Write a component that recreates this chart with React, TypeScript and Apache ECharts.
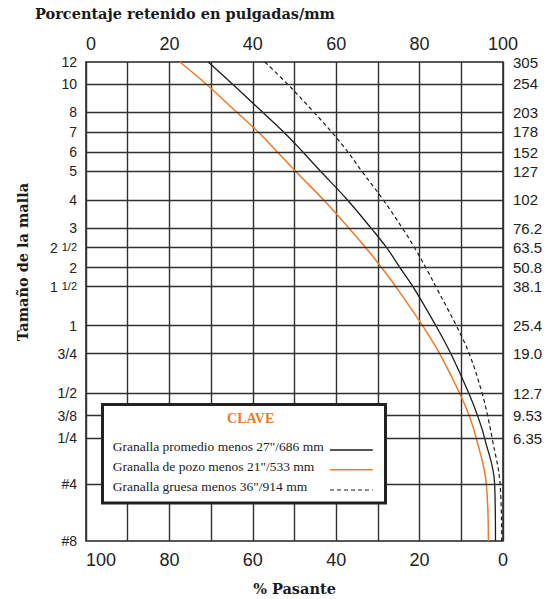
import { useEffect, useRef } from 'react';
import * as echarts from 'echarts';

// Sieve (mesh) sizes, top to bottom, as printed on the left axis
const meshLabels = ['12', '10', '8', '7', '6', '5', '4', '3', '2 {s|1/2}', '2', '1 {s|1/2}', '1', '3/4', '1/2', '3/8', '1/4', '#4', '#8'];
// Position of each sieve line along the (hand-drawn, irregular) vertical axis, 0 = top, 100 = bottom
const meshAxisPos = [0, 4.59, 10.44, 14.61, 18.79, 22.76, 28.81, 34.72, 38.77, 42.94, 46.91, 55.05, 60.9, 69.16, 73.84, 78.56, 88.1, 100];
// Millimetre equivalents printed on the right axis (first 16 sieves)
const mmLabels = ['305', '254', '203', '178', '152', '127', '102', '76.2', '63.5', '50.8', '38.1', '25.4', '19.0', '12.7', '9.53', '6.35'];

// % retained (top axis) at each sieve
const promedio = [29.3, 35.1, 42.3, 47.4, 52.0, 56.2, 62.7, 68.4, 72.1, 75.3, 78.4, 83.9, 87.5, 91.8, 93.9, 95.6, 98.0, 98.2];
const pozo = [22.5, 28.8, 36.1, 41.3, 45.9, 50.2, 57.0, 63.1, 67.1, 70.9, 74.3, 80.7, 84.8, 89.6, 91.9, 93.6, 96.0, 96.5];
const gruesa = [42.9, 48.3, 54.6, 58.9, 62.8, 66.1, 71.3, 75.9, 78.8, 81.5, 83.9, 88.8, 91.9, 95.0, 96.3, 97.4, 99.3, 99.7];

const legendNames = [
  'Granalla promedio menos 27"/686 mm',
  'Granalla de pozo menos 21"/533 mm',
  'Granalla gruesa menos 36"/914 mm',
];

const ORANGE = '#f07a22';
const DARK = '#1c1c1c';
const GRID = '#303030';
const NUM_FONT = '"Liberation Sans", Arial, sans-serif';
const TITLE_FONT = '"DejaVu Serif", serif';
const LEG_FONT = '"Liberation Serif", "Times New Roman", serif';

function idxOf(v: number) {
  let best = 0;
  let d = Infinity;
  meshAxisPos.forEach((p, i) => {
    const dd = Math.abs(p - v);
    if (dd < d) { d = dd; best = i; }
  });
  return best;
}

export default function App() {
  const ref = useRef<HTMLDivElement>(null);

  useEffect(() => {
    if (!ref.current) return;
    const chart = echarts.init(ref.current, null, { renderer: 'svg' });
    const toData = (arr: number[]) => arr.map((v, i) => [v, meshAxisPos[i]]);

    const option: any = {
      animation: false,
      backgroundColor: '#ffffff',
      grid: {
        left: 86, right: 54, top: 62, bottom: 58,
        show: true, borderColor: '#222', borderWidth: 1.5, backgroundColor: 'transparent',
      },
      xAxis: [
        {
          type: 'value', position: 'top', min: 0, max: 100, interval: 10,
          axisLine: { show: false }, axisTick: { show: false },
          splitLine: { show: true, lineStyle: { color: GRID, width: 1.4 } },
          axisLabel: {
            margin: 9, fontSize: 18, color: '#222', fontFamily: NUM_FONT,
            alignMinLabel: 'left',
            formatter: (v: number) => (v % 20 === 0 ? String(v) : ''),
          },
        },
        {
          type: 'value', position: 'bottom', min: 0, max: 100, interval: 20, inverse: true,
          axisLine: { show: false }, axisTick: { show: false }, splitLine: { show: false },
          axisLabel: {
            margin: 10, fontSize: 18, color: '#222', fontFamily: NUM_FONT,
            alignMaxLabel: 'left',
          },
        },
      ],
      yAxis: [
        {
          type: 'value', min: 0, max: 100, inverse: true, position: 'left',
          axisLine: { show: false }, axisTick: { show: false }, splitLine: { show: false },
          axisLabel: {
            customValues: meshAxisPos,
            margin: 9, fontSize: 14, color: '#222', fontFamily: NUM_FONT,
            formatter: (v: number) => meshLabels[idxOf(v)],
            rich: { s: { fontSize: 11, color: '#222', fontFamily: NUM_FONT, padding: [0, 0, 2, 0] } },
          },
        },
        {
          type: 'value', min: 0, max: 100, inverse: true, position: 'right',
          axisLine: { show: false }, axisTick: { show: false }, splitLine: { show: false },
          axisLabel: {
            customValues: meshAxisPos.slice(0, mmLabels.length),
            margin: 10, fontSize: 15, color: '#222', fontFamily: NUM_FONT,
            formatter: (v: number) => mmLabels[idxOf(v)] ?? '',
          },
        },
      ],
      series: [
        {
          type: 'line', name: 'grid', xAxisIndex: 0, yAxisIndex: 0,
          data: [[0, 0]], symbol: 'none', lineStyle: { opacity: 0 }, silent: true,
          markLine: {
            silent: true, symbol: ['none', 'none'], label: { show: false },
            lineStyle: { color: GRID, width: 1.4, type: 'solid' },
            emphasis: { disabled: true },
            data: meshAxisPos.slice(1, meshAxisPos.length - 1).map((v) => ({ yAxis: v })),
          },
        },
        {
          type: 'line', name: legendNames[0], xAxisIndex: 0, yAxisIndex: 0,
          data: toData(promedio), smooth: 0.4, showSymbol: false, symbol: 'none',
          lineStyle: { color: DARK, width: 1.3 },
        },
        {
          type: 'line', name: legendNames[1], xAxisIndex: 0, yAxisIndex: 0,
          data: toData(pozo), smooth: 0.4, showSymbol: false, symbol: 'none',
          lineStyle: { color: ORANGE, width: 1.5 },
        },
        {
          type: 'line', name: legendNames[2], xAxisIndex: 0, yAxisIndex: 0,
          data: toData(gruesa), smooth: 0.4, showSymbol: false, symbol: 'none',
          lineStyle: { color: DARK, width: 1.2, type: [4, 3] },
        },
      ],
      graphic: [
        {
          type: 'text', left: 35, top: 6,
          style: { text: 'Porcentaje retenido en pulgadas/mm', font: `bold 14.5px ${TITLE_FONT}`, fill: '#1a1a1a' },
        },
        {
          type: 'text', x: 22, y: 262, rotation: Math.PI / 2,
          style: { text: 'Tamaño de la malla', font: `bold 14.5px ${TITLE_FONT}`, fill: '#1a1a1a', align: 'center', verticalAlign: 'middle' },
        },
        {
          type: 'text', x: 294.5, y: 588,
          style: { text: '% Pasante', font: `bold 14.5px ${TITLE_FONT}`, fill: '#1a1a1a', align: 'center', verticalAlign: 'middle' },
        },
        {
          type: 'group', z: 100,
          children: [
            {
              type: 'rect', shape: { x: 102.5, y: 404.5, width: 283, height: 98.5 },
              style: { fill: '#fff', stroke: '#222', lineWidth: 3 }, z: 100,
            },
            {
              type: 'text', x: 250.7, y: 418, z: 101,
              style: { text: 'CLAVE', font: `bold 14px ${LEG_FONT}`, fill: ORANGE, align: 'center', verticalAlign: 'middle' },
            },
            {
              type: 'text', x: 112.7, y: 446.7, z: 101,
              style: { text: legendNames[0], font: `13.5px ${LEG_FONT}`, fill: '#222', verticalAlign: 'middle' },
            },
            {
              type: 'text', x: 112.7, y: 466, z: 101,
              style: { text: legendNames[1], font: `13.5px ${LEG_FONT}`, fill: '#222', verticalAlign: 'middle' },
            },
            {
              type: 'text', x: 112.7, y: 486.7, z: 101,
              style: { text: legendNames[2], font: `13.5px ${LEG_FONT}`, fill: '#222', verticalAlign: 'middle' },
            },
            {
              type: 'line', z: 101, shape: { x1: 330, y1: 450, x2: 372.7, y2: 450 },
              style: { stroke: DARK, lineWidth: 1.3 },
            },
            {
              type: 'line', z: 101, shape: { x1: 330, y1: 469.7, x2: 372.7, y2: 469.7 },
              style: { stroke: ORANGE, lineWidth: 1.5 },
            },
            {
              type: 'line', z: 101, shape: { x1: 330, y1: 490, x2: 372.7, y2: 490 },
              style: { stroke: DARK, lineWidth: 1.2, lineDash: [4, 3] },
            },
          ],
        },
      ],
    };

    chart.setOption(option);
    return () => chart.dispose();
  }, []);

  return (
    <div
      ref={ref}
      style={{ position: 'fixed', left: 0, top: 0, width: 557, height: 599, background: '#fff' }}
    />
  );
}
